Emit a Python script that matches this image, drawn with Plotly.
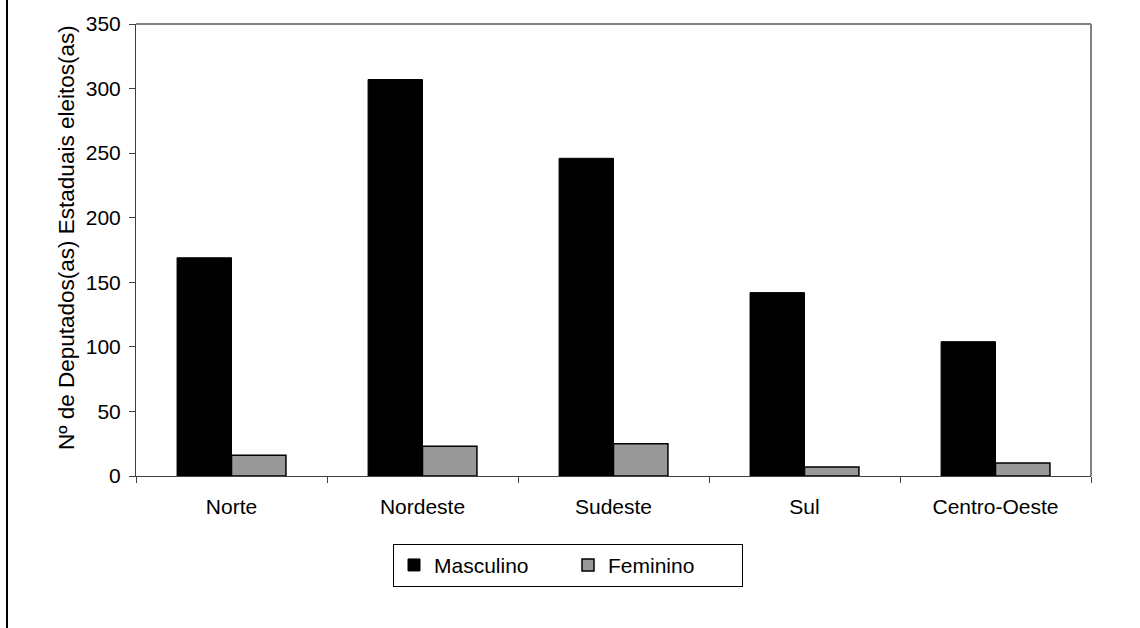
import plotly.graph_objects as go

# Deputados(as) estaduais eleitos(as) por região e sexo
regioes = ["Norte", "Nordeste", "Sudeste", "Sul", "Centro-Oeste"]
masculino = [169, 307, 246, 142, 104]
feminino = [16, 23, 25, 7, 10]
y_ticks = [0, 50, 100, 150, 200, 250, 300, 350]
y_titulo = "Nº de Deputados(as) Estaduais eleitos(as)"

FONT = "Liberation Sans, Arial, sans-serif"
L, R, T, B = 136, 49, 24, 152
PW, PH = 1140 - L - R, 628 - T - B

fig = go.Figure()
fig.add_trace(go.Bar(
    x=regioes, y=masculino, name="Masculino",
    marker=dict(color="#000000", line=dict(color="#000000", width=1)),
))
fig.add_trace(go.Bar(
    x=regioes, y=feminino, name="Feminino",
    marker=dict(color="#999999", line=dict(color="#000000", width=1.5)),
))

fig.update_layout(
    width=1140, height=628,
    margin=dict(l=L, r=R, t=T, b=B),
    paper_bgcolor="white", plot_bgcolor="white",
    font=dict(family=FONT, size=21, color="#000000"),
    barmode="group", bargap=0.43, bargroupgap=0,
    showlegend=True,
    legend=dict(
        orientation="h", x=(568 - L) / PW, xanchor="center", y=-0.15, yanchor="top",
        bordercolor="#000000", borderwidth=1, bgcolor="white",
        font=dict(size=21), itemwidth=30, traceorder="normal",
        entrywidth=129, entrywidthmode="pixels",
    ),
    xaxis=dict(
        showline=True, linecolor="#404040", linewidth=1,
        ticks="outside", ticklen=6, tickcolor="#404040",
        tickson="boundaries", showgrid=False,
        ticklabelstandoff=12,
    ),
    yaxis=dict(
        range=[0, 350], tickvals=y_ticks,
        showline=True, linecolor="#404040", linewidth=1,
        ticks="outside", ticklen=6, tickcolor="#404040",
        showgrid=False, zeroline=False,
        ticklabelstandoff=4,
    ),
)

# Y-axis title
fig.add_annotation(
    text=y_titulo, textangle=-90, showarrow=False,
    xref="paper", yref="paper",
    x=(67 - L) / PW, y=(T + PH - 238) / PH,
    xanchor="center", yanchor="middle",
    font=dict(size=22.5),
)

# Plot area frame (top and right edges)
fig.add_shape(type="line", xref="paper", yref="paper", x0=0, x1=1, y0=1, y1=1,
              line=dict(color="#808080", width=2))
fig.add_shape(type="line", xref="paper", yref="paper", x0=1, x1=1, y0=0, y1=1,
              line=dict(color="#808080", width=2))
# Chart area border on the left edge
fig.add_shape(type="line", xref="paper", yref="paper",
              x0=(7 - L) / PW, x1=(7 - L) / PW, y0=-B / PH, y1=1 + T / PH,
              line=dict(color="#000000", width=2))

fig.write_html("out.html")
